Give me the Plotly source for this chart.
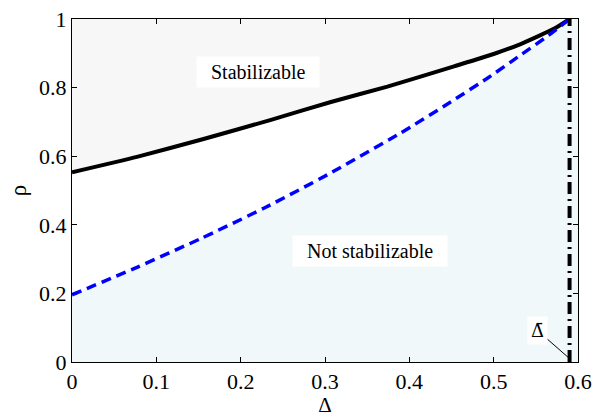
import plotly.graph_objects as go

# Data
delta_black = [0.0, 0.077, 0.156, 0.236, 0.307, 0.374, 0.453, 0.50, 0.532, 0.572, 0.59]
rho_black = [0.553, 0.598, 0.650, 0.706, 0.758, 0.803, 0.862, 0.898, 0.927, 0.972, 1.0]

delta_blue = [0.0, 0.077, 0.152, 0.228, 0.303, 0.39, 0.449, 0.493, 0.532, 0.565, 0.59]
rho_blue = [0.196, 0.276, 0.359, 0.449, 0.546, 0.668, 0.758, 0.828, 0.895, 0.952, 1.0]

delta_bar = 0.59
x_range = [0, 0.6]
y_range = [0, 1]
x_ticks = [0, 0.1, 0.2, 0.3, 0.4, 0.5, 0.6]
x_ticklabels = ["0", "0.1", "0.2", "0.3", "0.4", "0.5", "0.6"]
y_ticks = [0, 0.2, 0.4, 0.6, 0.8, 1]
y_ticklabels = ["0", "0.2", "0.4", "0.6", "0.8", "1"]

GRAY_FILL = "rgb(247,247,247)"
BLUE_FILL = "rgb(240,248,250)"
FONT = "Liberation Serif"
NB = "\u00a0"

fig = go.Figure()

# Stabilizable region (above black curve)
fig.add_trace(go.Scatter(x=delta_black, y=[y_range[1]] * len(delta_black),
                         mode="lines", line=dict(width=0), hoverinfo="skip", showlegend=False))
fig.add_trace(go.Scatter(x=delta_black, y=rho_black, mode="lines", fill="tonexty",
                         fillcolor=GRAY_FILL, line=dict(width=0, shape="spline", smoothing=0.5),
                         hoverinfo="skip", showlegend=False))

# Not stabilizable region (below blue curve)
fig.add_trace(go.Scatter(x=delta_blue, y=rho_blue, mode="lines", fill="tozeroy",
                         fillcolor=BLUE_FILL, line=dict(width=0, shape="spline", smoothing=0.5),
                         hoverinfo="skip", showlegend=False))
# region right of delta_bar
fig.add_trace(go.Scatter(x=[delta_bar, x_range[1]], y=[y_range[1], y_range[1]], mode="lines",
                         fill="tozeroy", fillcolor=BLUE_FILL, line=dict(width=0),
                         hoverinfo="skip", showlegend=False))

# Curves
fig.add_trace(go.Scatter(x=delta_black, y=rho_black, mode="lines",
                         line=dict(color="black", width=4, shape="spline", smoothing=0.5),
                         showlegend=False))
fig.add_trace(go.Scatter(x=delta_blue, y=rho_blue, mode="lines",
                         line=dict(color="blue", width=3.5, dash="10px,6px",
                                   shape="spline", smoothing=0.5),
                         showlegend=False))
# Vertical dash-dot line at delta_bar
fig.add_trace(go.Scatter(x=[delta_bar, delta_bar], y=y_range, mode="lines",
                         line=dict(color="black", width=4, dash="12px,5px,2px,5px"),
                         showlegend=False))

fig.add_annotation(x=0.221, y=0.845, text=NB + NB + "Stabilizable" + NB + NB, showarrow=False,
                   bgcolor="white", borderpad=4,
                   font=dict(family=FONT, size=20, color="black"))
fig.add_annotation(x=0.353, y=0.324, text=NB + NB + "Not stabilizable" + NB + NB, showarrow=False,
                   bgcolor="white", borderpad=4,
                   font=dict(family=FONT, size=20, color="black"))
fig.add_annotation(x=delta_bar, y=0.01, text="Δ\u0304", showarrow=True,
                   arrowhead=0, arrowwidth=1, arrowcolor="black",
                   ax=-32, ay=-28, bgcolor="white", borderpad=3,
                   font=dict(family="DejaVu Serif", size=18, color="black"))

axis_common = dict(showgrid=False, zeroline=False, showline=True, linecolor="black",
                   linewidth=1, mirror="ticks", ticks="inside", ticklen=5,
                   tickcolor="black", ticklabeloverflow="allow",
                   tickfont=dict(family=FONT, size=22, color="black"))

fig.update_layout(
    width=611, height=417,
    margin=dict(l=72, r=33, t=7, b=55),
    paper_bgcolor="white", plot_bgcolor="white",
    font=dict(family=FONT),
    xaxis=dict(range=x_range, tickvals=x_ticks, ticktext=x_ticklabels,
               title=dict(text="Δ", font=dict(family=FONT, size=21, color="black"), standoff=0),
               **axis_common),
    yaxis=dict(range=y_range, tickvals=y_ticks, ticktext=y_ticklabels,
               title=dict(text="ρ", font=dict(family=FONT, size=23, color="black"), standoff=6),
               **axis_common),
)

fig.write_html("out.html")
